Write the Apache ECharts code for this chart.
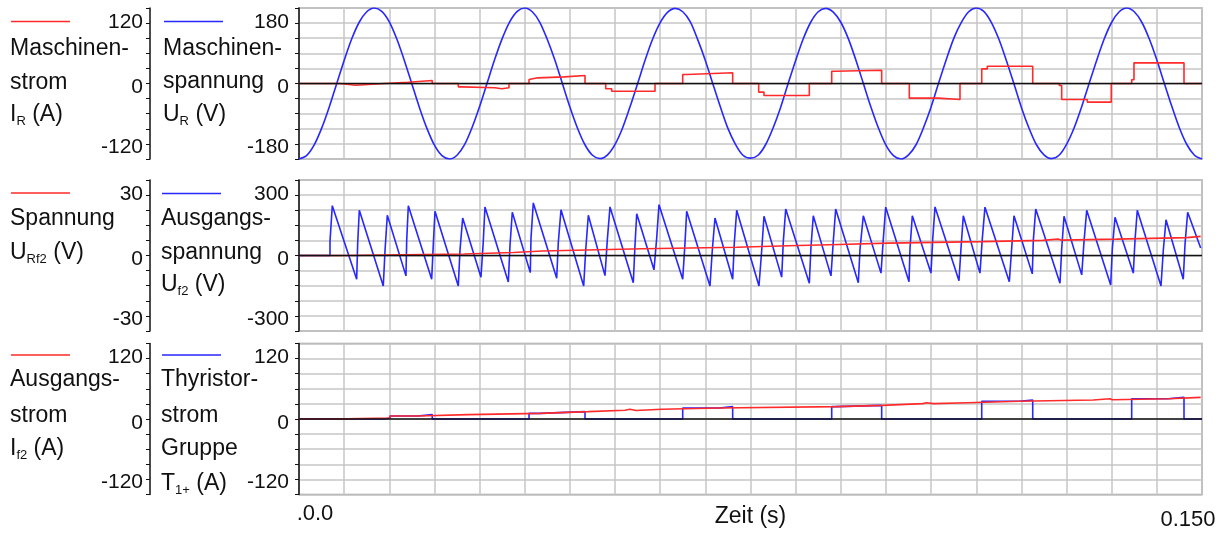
<!DOCTYPE html>
<html>
<head>
<meta charset="utf-8">
<script src="https://cdn.jsdelivr.net/npm/echarts@6/dist/echarts.min.js"></script>
<style>
  html, body { margin: 0; padding: 0; background: #fff; }
  #holder { width: 1231px; height: 533px; }
</style>
</head>
<body>
<div id="holder"></div>
<script>

// Zeitachse in ms (0 ... 150 ms), Raster alle 7.5 ms
var zeitMax = 150
var zeitRaster = 7.5

var urSchritt = 1.25
var urWerte = [
  -180,-172,-147,-107,-57,-1,55,106,146,171,180,172,147,106,55,-1,-57,-107,-147,-172,
  -180,-171,-146,-105,-55,1,57,107,147,172,180,171,146,105,56,0,-56,-106,-146,-171,
  -179,-170,-145,-106,-55,0,56,106,145,170,179,171,147,104,55,-1,-56,-107,-145,-171,
  -178,-171,-146,-106,-57,0,55,106,146,171,179,170,146,107,56,0,-56,-106,-147,-172,
  -180,-170,-146,-105,-56,1,56,107,145,171,180,172,146,106,55,0,-57,-106,-146,-170,
  -179,-171,-145,-106,-56,0,55,106,146,171,180,171,146,106,56,0,-55,-106,-146,-171,
  -180
]

// Maschinenstrom I_R (A): [Zeit ms, Wert] Treppe
var irStufen = [
  [0,0],[6.81,-2.7],[9.42,0],[14.17,2.0],[18.16,4.8],[22.14,0],
  [26.46,-5.3],[27.03,-6.8],[32.56,-8.4],[33.67,-6.8],[34.88,0],
  [38.21,6.3],[38.54,9.0],[39.65,10.6],[44.07,12.7],[47.51,0],
  [50.95,-8.4],[51.94,-12.2],[59.14,0],
  [63.74,14.3],[64.50,17.0],[72.04,0],
  [76.36,-13.7],[77.24,-19.0],[84.77,0],
  [88.49,19.5],[89.04,21.0],[96.79,0],
  [101.38,-23.3],[106.20,-25.4],[109.80,0],
  [113.41,23.2],[114.34,27.5],[121.88,0],
  [126.30,-3.2],[126.69,-25.4],[130.95,-29.6],[134.93,0],
  [138.32,6.0],[138.70,32.8],[147.01,0],[150,0]
]

// Ausgangsspannung U_f2 (V): Eckpunkte [Zeit ms, Wert]
var uf2Punkte = [
  [0,0],[5.15,0],[5.15,56],[5.53,198],
  [9.58,-94],[9.75,50],[10.02,180],
  [14.00,-121],[14.29,20],[14.67,160],
  [17.77,-81],[17.89,60],[18.16,198],
  [22.04,-94],[22.31,45],[22.59,176],
  [26.46,-121],[26.74,20],[27.19,149],
  [30.23,-86],[30.61,55],[30.89,193],
  [34.77,-105],[35.05,40],[35.43,172],
  [38.42,-68],[38.54,70],[38.92,209],
  [42.81,-90],[43.07,50],[43.52,182],
  [47.29,-121],[47.62,20],[48.06,160],
  [50.83,-80],[51.21,60],[51.66,193],
  [55.53,-108],[55.81,40],[56.10,166],
  [58.97,-57],[59.42,70],[59.80,202],
  [63.74,-94],[64.12,50],[64.40,176],
  [68.27,-121],[68.65,20],[69.10,149],
  [72.04,-94],[72.31,50],[72.71,180],
  [76.41,-121],[76.86,20],[77.24,156],
  [80.18,-86],[80.45,55],[80.85,185],
  [84.77,-110],[85.05,35],[85.43,158],
  [88.37,-81],[88.75,55],[89.15,185],
  [92.91,-108],[93.19,25],[93.74,158],
  [96.68,-70],[97.06,65],[97.46,192],
  [101.33,-104],[101.50,30],[101.88,158],
  [104.98,-70],[105.27,65],[105.65,193],
  [109.63,-100],[109.97,30],[110.35,158],
  [113.12,-70],[113.50,65],[113.95,192],
  [117.99,-104],[118.39,30],[118.77,158],
  [121.81,-73],[121.98,60],[122.38,185],
  [126.41,-110],[126.69,25],[127.08,156],
  [130.02,-77],[130.40,55],[130.85,180],
  [134.83,-117],[135.10,25],[135.55,152],
  [138.59,-70],[138.87,60],[139.25,180],
  [143.19,-121],[143.57,20],[144.02,142],
  [146.89,-94],[147.18,45],[147.62,172],
  [149.78,30]
]

// Spannung U_Rf2 (V): Treppe
var urf2Stufen = [
  [0,0],[7.52,0.6],[27.46,1.2],[35.60,1.8],[40.42,2.3],[49.62,2.7],
  [57.19,3.3],[72.71,3.9],[81.28,4.4],[89.75,4.9],[97.89,5.5],
  [113.41,6.0],[123.54,6.5],[126.08,6.1],[126.69,6.5],[135.83,7.1],
  [147.46,7.6],[149.78,7.6]
]

// Ausgangsstrom I_f2 (A): Treppe
var if2Stufen = [
  [0,0],[5.70,1.6],[15.12,4.8],[19.72,6.9],[28.12,9.0],[40.03,11.7],
  [48.06,13.8],[54.15,15.4],[54.98,13.6],[55.98,15.4],[60.25,17.5],
  [69.82,19.6],[89.20,21.7],[96.96,24.4],[103.60,25.9],[104.27,24.4],
  [105.37,25.9],[111.01,28.1],[119.65,30.2],[131.94,32.3],[134.72,30.6],
  [135.10,32.3],[144.40,34.4],[149.78,34.4]
]

// Thyristorstrom Gruppe T1+ (A): Treppe
var t1Stufen = [
  [0,0],[14.17,1.6],[15.12,4.8],[19.72,6.9],[22.14,0],
  [38.21,9.0],[40.03,11.7],[47.51,0],
  [63.74,17.5],[69.82,19.6],[72.04,0],
  [88.49,19.6],[89.20,21.7],[96.79,0],
  [113.41,28.1],[119.65,30.2],[121.88,0],
  [138.32,32.3],[144.40,34.4],[147.01,0],[150,0]
]

var nullLinie = [[0,0],[150,0]]

var blau = '#2727ff'
var rot = '#ff2a2a'
var schrift = '"Liberation Sans", Arial, sans-serif'

var ur = urWerte.map(function (v, i) { return [i * urSchritt, v] })

function randText(max) {
  return function (v) {
    if (Math.abs(v - max) < 1e-9) return '{o|' + max + '}'
    if (Math.abs(v) < 1e-9) return '{m|0}'
    if (Math.abs(v + max) < 1e-9) return '{u|-' + max + '}'
    return ''
  }
}

function labelRich() {
  var b = { fontSize: 21, fontFamily: schrift, color: '#111' }
  return {
    o: Object.assign({ padding: [28, 0, 0, 0] }, b),
    m: Object.assign({ padding: [8, 0, 0, 0] }, b),
    u: Object.assign({ padding: [0, 0, 24, 0] }, b)
  }
}

function hauptAchse(g, max, iv) {
  return {
    type: 'value', gridIndex: g, min: -max, max: max, interval: iv,
    axisLine: { show: true, onZero: false, lineStyle: { color: '#111', width: 1.5 } },
    axisTick: { show: true, length: 4, lineStyle: { color: '#111' } },
    splitLine: { show: true, lineStyle: { color: '#c6c6c6', width: 1.5 } },
    axisLabel: { margin: 10, formatter: randText(max), rich: labelRich() }
  }
}

function roteAchse(g, max, iv) {
  return {
    type: 'value', gridIndex: g, min: -max, max: max, interval: iv,
    position: 'left', offset: 149,
    axisLine: { show: true, onZero: false, lineStyle: { color: '#111', width: 1.5 } },
    axisTick: { show: true, length: 4, lineStyle: { color: '#111' } },
    splitLine: { show: false },
    axisLabel: { margin: 7, formatter: randText(max), rich: labelRich() }
  }
}

function zeitAchse(g, mitText) {
  var ax = {
    type: 'value', gridIndex: g, min: 0, max: zeitMax, interval: zeitRaster,
    axisLine: { show: false }, axisTick: { show: false },
    splitLine: { show: true, lineStyle: { color: '#c6c6c6', width: 1.5 } },
    axisLabel: { show: false }
  }
  if (mitText) {
    ax.axisLabel = {
      show: true, margin: 8,
      formatter: function (v) {
        if (v === 0) return '{a|.0.0}'
        if (v === zeitMax) return '{b|0.150}'
        return ''
      },
      rich: {
        a: { fontSize: 22, fontFamily: schrift, color: '#111', padding: [0, 0, 0, 32] },
        b: { fontSize: 22, fontFamily: schrift, color: '#111', padding: [6, 28, 0, 0] }
      }
    }
    ax.name = 'Zeit (s)'
    ax.nameLocation = 'middle'
    ax.nameGap = 22.5
    ax.nameMoveOverlap = false
    ax.nameTextStyle = { fontSize: 23, fontFamily: schrift, color: '#111', verticalAlign: 'middle' }
  }
  return ax
}

function linie(x, y, daten, farbe, stufe, z) {
  var s = {
    type: 'line', xAxisIndex: x, yAxisIndex: y, data: daten,
    showSymbol: false, symbol: 'none', animation: false, z: z,
    lineStyle: { color: farbe, width: 1.6 }
  }
  if (stufe) s.step = 'end'
  return s
}

// Beschriftung links: Linie + Textzeilen
var subRich = { s: { fontSize: 13, fontFamily: schrift, color: '#111', padding: [12, 0, 0, 0] } }

function block(x, ly, farbe, zeilen) {
  var el = [{
    type: 'line', shape: { x1: x + 1, y1: ly, x2: x + 60, y2: ly },
    style: { stroke: farbe, lineWidth: 1.5 }
  }]
  zeilen.forEach(function (z) {
    el.push({
      type: 'text', x: x, y: z[1] - 8,
      style: {
        text: z[0], font: '23px ' + schrift, fill: '#111',
        textAlign: 'left', textVerticalAlign: 'middle', align: 'left', verticalAlign: 'middle',
        rich: subRich
      }
    })
  })
  return el
}

var grafik = [].concat(
  block(10, 21.5, rot, [['Maschinen-', 57], ['strom', 91], ['I{s|R} (A)', 123]]),
  block(163, 21.5, blau, [['Maschinen-', 57], ['spannung', 90], ['U{s|R} (V)', 123]]),
  block(10, 193, rot, [['Spannung', 227], ['U{s|Rf2} (V)', 261]]),
  block(161, 193.5, blau, [['Ausgangs-', 227], ['spannung', 261], ['U{s|f2} (V)', 293]]),
  block(10, 355, rot, [['Ausgangs-', 388], ['strom', 424], ['I{s|f2} (A)', 457]]),
  block(161, 355, blau, [['Thyristor-', 388], ['strom', 424], ['Gruppe', 457], ['T{s|1+} (A)', 492]])
)

var rahmen = {
  show: true, borderColor: '#9c9c9c', borderWidth: 1.5,
  left: 299, width: 903, height: 151, outerBoundsMode: 'none', containLabel: false
}

var option = {
  backgroundColor: '#fff',
  animation: false,
  grid: [
    Object.assign({ top: 8 }, rahmen),
    Object.assign({ top: 180 }, rahmen),
    Object.assign({ top: 343.5 }, rahmen)
  ],
  xAxis: [zeitAchse(0, false), zeitAchse(1, false), zeitAchse(2, true)],
  yAxis: [
    hauptAchse(0, 180, 36), roteAchse(0, 120, 24),
    hauptAchse(1, 300, 60), roteAchse(1, 30, 6),
    hauptAchse(2, 120, 24), roteAchse(2, 120, 24)
  ],
  graphic: grafik,
  series: [
    Object.assign(linie(0, 0, ur, blau, false, 2), { smooth: 0.3 }),
    linie(0, 1, irStufen, rot, true, 3),
    linie(0, 0, nullLinie, '#111', false, 4),

    linie(1, 2, uf2Punkte, blau, false, 2),
    linie(1, 3, urf2Stufen, rot, true, 3),
    linie(1, 2, nullLinie, '#111', false, 4),

    linie(2, 4, t1Stufen, blau, true, 2),
    linie(2, 5, if2Stufen, rot, true, 3),
    linie(2, 4, nullLinie, '#111', false, 4)
  ]
}

var myChart = echarts.init(document.getElementById('holder'))
myChart.setOption(option)
</script>
</body>
</html>
